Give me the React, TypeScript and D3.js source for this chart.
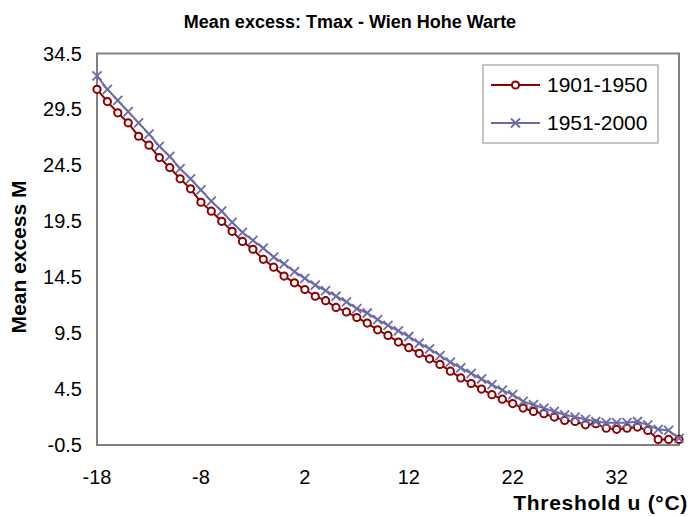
import React from "react";
import * as d3 from "d3";

const thresholds: number[] = d3.range(-18, 39);
const series1901: number[] = [
  31.3, 30.2, 29.2, 28.3, 27.1, 26.3, 25.2, 24.3, 23.3, 22.4,
  21.2, 20.4, 19.5, 18.6, 17.7, 17.0, 16.1, 15.4, 14.6, 14.0,
  13.4, 12.8, 12.4, 11.8, 11.4, 10.9, 10.4, 9.8, 9.3, 8.7,
  8.2, 7.7, 7.2, 6.7, 6.1, 5.5, 5.0, 4.5, 4.0, 3.6,
  3.2, 2.8, 2.5, 2.3, 2.0, 1.7, 1.6, 1.3, 1.4, 1.0,
  0.9, 1.0, 1.1, 0.8, 0.0, 0.0, 0.0,
];
const series1951: number[] = [
  32.5, 31.3, 30.3, 29.3, 28.3, 27.3, 26.2, 25.3, 24.2, 23.3,
  22.3, 21.3, 20.4, 19.4, 18.5, 17.8, 17.1, 16.3, 15.7, 15.0,
  14.4, 13.8, 13.3, 12.8, 12.3, 11.7, 11.3, 10.7, 10.2, 9.7,
  9.2, 8.6, 8.1, 7.5, 6.9, 6.4, 5.9, 5.4, 4.9, 4.4,
  4.0, 3.4, 3.1, 2.8, 2.5, 2.2, 2.0, 1.8, 1.6, 1.5,
  1.5, 1.5, 1.6, 1.3, 0.9, 0.8, 0.1,
];
const xTicks: number[] = [-18, -8, 2, 12, 22, 32];
const yTicks: number[] = [-0.5, 4.5, 9.5, 14.5, 19.5, 24.5, 29.5, 34.5];
const seriesNames: string[] = ["1901-1950", "1951-2000"];

const W = 691;
const H = 517;
const left = 97;
const right = 679;
const top = 53.5;
const bottom = 445;
const RED = "#8e0000";
const BLUE = "#6b6ba8";
const FONT = "'Liberation Sans', Arial, sans-serif";

export default function App() {
  const x = d3.scaleLinear().domain([-18, 38]).range([left, right]);
  const y = d3.scaleLinear().domain([-0.5, 34.5]).range([bottom, top]);
  const line = d3
    .line<number>()
    .x((_, i) => x(thresholds[i]))
    .y((d) => y(d));

  const cross = (cx: number, cy: number, key: string, r = 4.5) => (
    <path
      key={key}
      d={`M${cx - r},${cy - r}L${cx + r},${cy + r}M${cx - r},${cy + r}L${cx + r},${cy - r}`}
      stroke={BLUE}
      strokeWidth={1.8}
      fill="none"
    />
  );

  const legX = 483;
  const legY = 65;
  return (
    <svg
      width={W}
      height={H}
      style={{ position: "absolute", left: 0, top: 0, background: "#fff" }}
      fontFamily={FONT}
    >
      <rect x={0} y={0} width={W} height={H} fill="#fff" />
      <text
        x={350}
        y={28}
        textAnchor="middle"
        fontWeight="bold"
        fontSize={18}
        fill="#000"
      >
        Mean excess: Tmax - Wien Hohe Warte
      </text>

      {/* frame */}
      <rect
        x={left}
        y={top}
        width={right - left}
        height={bottom - top}
        fill="none"
        stroke="#808080"
        strokeWidth={2}
      />

      {yTicks.map((t) => (
        <text
          key={"y" + t}
          x={82}
          y={y(t)}
          dy="0.35em"
          textAnchor="end"
          fontSize={20}
          fill="#000"
        >
          {t.toFixed(1)}
        </text>
      ))}
      {xTicks.map((t) => (
        <text
          key={"x" + t}
          x={x(t)}
          y={477}
          dy="0.35em"
          textAnchor="middle"
          fontSize={20}
          fill="#000"
        >
          {t}
        </text>
      ))}

      <text
        x={688}
        y={510}
        textAnchor="end"
        fontWeight="bold"
        fontSize={21}
        letterSpacing={0.7}
        fill="#000"
      >
        Threshold u (°C)
      </text>
      <text
        transform={`translate(26,257) rotate(-90)`}
        textAnchor="middle"
        fontWeight="bold"
        fontSize={21}
        fill="#000"
      >
        Mean excess M
      </text>

      {/* series 1 */}
      <path d={line(series1901) || ""} fill="none" stroke={RED} strokeWidth={2} />
      {series1901.map((v, i) => (
        <circle
          key={"c" + i}
          cx={x(thresholds[i])}
          cy={y(v)}
          r={3.6}
          fill="#fff"
          stroke={RED}
          strokeWidth={2}
        />
      ))}
      {/* series 2 */}
      <path d={line(series1951) || ""} fill="none" stroke={BLUE} strokeWidth={2} />
      {series1951.map((v, i) => cross(x(thresholds[i]), y(v), "b" + i))}

      {/* legend */}
      <rect
        x={legX}
        y={legY}
        width={175}
        height={78}
        fill="#fff"
        stroke="#a0a0a0"
        strokeWidth={1.2}
      />
      <line x1={491} x2={540} y1={85} y2={85} stroke={RED} strokeWidth={2} />
      <circle cx={515.5} cy={85} r={3.6} fill="#fff" stroke={RED} strokeWidth={2} />
      <text x={547} y={85} dy="0.35em" fontSize={21} fill="#000">
        {seriesNames[0]}
      </text>
      <line x1={491} x2={540} y1={123} y2={123} stroke={BLUE} strokeWidth={2} />
      {cross(515.5, 123, "legc")}
      <text x={547} y={123} dy="0.35em" fontSize={21} fill="#000">
        {seriesNames[1]}
      </text>
    </svg>
  );
}
